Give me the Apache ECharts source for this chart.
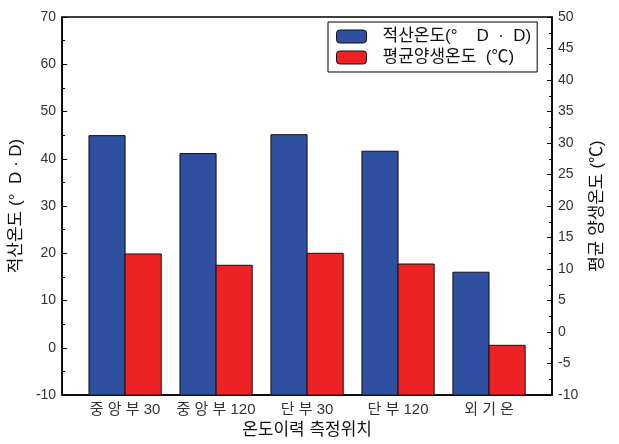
<!DOCTYPE html>
<html><head><meta charset="utf-8">
<script src="https://cdn.jsdelivr.net/npm/echarts@6/dist/echarts.min.js"></script>
<style>html,body{margin:0;padding:0;background:#fff}#c{width:619px;height:444px}</style>
</head><body><div id="c"></div>
<script>
const categories = ['중 앙 부 30', '중 앙 부 120', '단 부 30', '단 부 120', '외 기 온'];
const degreeDays = [44.9, 41.1, 45.1, 41.6, 16.0];
const avgCuringTemp = [12.4, 10.6, 12.5, 10.8, -2.1];
const leftTicks = { min: -10, max: 70, interval: 10 };
const rightTicks = { min: -10, max: 50, interval: 5 };
const seriesNames = ['적산온도(°    D  ·  D)', '평균양생온도  (℃)'];

const FONT = '"Liberation Sans", "Noto Sans CJK KR", sans-serif';
const BAR_FRAC = 0.397;
function makeRender(side, axisMin) {
  return function (params, api) {
    const x = api.value(0), v = api.value(1);
    const top = api.coord([x, v]);
    const base = api.coord([x, axisMin]);
    const w = api.size([1, 0])[0] * BAR_FRAC;
    const x0 = side < 0 ? top[0] - w : top[0];
    return {
      type: 'rect',
      shape: { x: x0, y: top[1], width: w, height: base[1] - top[1] },
      style: api.style({ stroke: '#111', lineWidth: 1 })
    };
  };
}
const chart = echarts.init(document.getElementById('c'));
chart.setOption({
  animation: false,
  textStyle: { fontFamily: FONT },
  grid: { left: 60, right: 67, top: 17, bottom: 44, show: true, borderColor: '#000', borderWidth: 1.5, containLabel: false },
  legend: {
    orient: 'vertical', left: 328, top: 22, itemWidth: 30, itemHeight: 13, itemGap: 4,
    borderColor: '#000', borderWidth: 1, padding: [6, 6, 6, 8],
    textStyle: { fontSize: 17, color: '#111', fontFamily: FONT, padding: [0, 0, 0, 11] },
    itemStyle: { borderColor: '#111', borderWidth: 1 },
    data: seriesNames
  },
  xAxis: {
    type: 'value', min: -0.692, max: 4.692,
    name: '온도이력 측정위치', nameLocation: 'middle', nameGap: 25,
    nameTextStyle: { fontSize: 17, color: '#111' },
    axisLine: { show: true, onZero: false, lineStyle: { color: '#000', width: 1.5 } },
    axisTick: { show: false },
    splitLine: { show: false },
    axisLabel: { customValues: [0, 1, 2, 3, 4], formatter: v => categories[Math.round(v)] || '', fontSize: 15, color: '#333', margin: 7 }
  },
  yAxis: [
    {
      type: 'value', position: 'left', min: leftTicks.min, max: leftTicks.max, interval: leftTicks.interval,
      name: '적산온도 (°  D · D)', nameLocation: 'middle', nameRotate: 90, nameGap: 27,
      nameTextStyle: { fontSize: 17, color: '#111' },
      axisLine: { show: true, onZero: false, lineStyle: { color: '#000', width: 1.5 } },
      axisTick: { show: true, inside: true, length: 5, lineStyle: { color: '#000' } },
      minorTick: { show: true, splitNumber: 2, length: 3, lineStyle: { color: '#000' } },
      splitLine: { show: false },
      axisLabel: { fontSize: 14, color: '#333', margin: 6 }
    },
    {
      type: 'value', position: 'right', min: rightTicks.min, max: rightTicks.max, interval: rightTicks.interval,
      name: '평균 양생온도 (℃)', nameLocation: 'middle', nameRotate: 90, nameGap: 33,
      nameTextStyle: { fontSize: 17, color: '#111' },
      axisLine: { show: true, onZero: false, lineStyle: { color: '#000', width: 1.5 } },
      axisTick: { show: true, inside: true, length: 5, lineStyle: { color: '#000' } },
      minorTick: { show: true, splitNumber: 2, length: 3, lineStyle: { color: '#000' } },
      splitLine: { show: false },
      axisLabel: { fontSize: 14, color: '#333', margin: 6 }
    }
  ],
  series: [
    {
      name: seriesNames[0], type: 'custom', yAxisIndex: 0,
      itemStyle: { color: '#2f4fa1' },
      renderItem: makeRender(-1, leftTicks.min),
      encode: { x: 0, y: 1 },
      data: degreeDays.map((v, i) => [i, v])
    },
    {
      name: seriesNames[1], type: 'custom', yAxisIndex: 1,
      itemStyle: { color: '#ee2125' },
      renderItem: makeRender(1, rightTicks.min),
      encode: { x: 0, y: 1 },
      data: avgCuringTemp.map((v, i) => [i, v])
    }
  ]
});
</script></body></html>
